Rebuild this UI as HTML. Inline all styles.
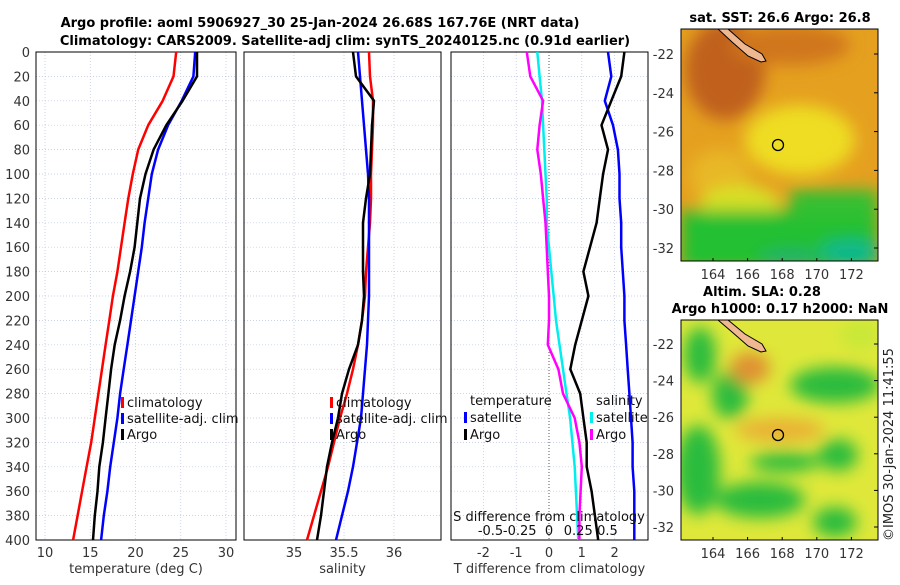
<!DOCTYPE html>
<html><head><meta charset="utf-8"><style>
body{margin:0;background:#fff;font-family:"Liberation Sans","DejaVu Sans",sans-serif}
svg text{font-family:"DejaVu Sans","Liberation Sans",sans-serif}
</style></head><body>
<svg id="c" width="900" height="580" viewBox="0 0 900 580" xmlns="http://www.w3.org/2000/svg">
<defs>
<filter id="bl" x="-50%" y="-50%" width="200%" height="200%"><feGaussianBlur stdDeviation="8"/></filter>
<clipPath id="m1"><rect x="681" y="29" width="197" height="232"/></clipPath>
<clipPath id="m2"><rect x="681" y="320" width="197" height="220"/></clipPath>
</defs>
<g font-weight="bold" font-size="13" text-anchor="middle" fill="#000">
<text x="320" y="27">Argo profile: aoml 5906927_30 25-Jan-2024 26.68S 167.76E (NRT data)</text>
<text x="345" y="45">Climatology: CARS2009. Satellite-adj clim: synTS_20240125.nc (0.91d earlier)</text>
<text x="780" y="22">sat. SST: 26.6 Argo: 26.8</text>
<text x="762" y="296">Altim. SLA: 0.28</text>
<text x="780" y="313">Argo h1000: 0.17 h2000: NaN</text>
</g>
<g clip-path="url(#m1)">
<rect x="681" y="29" width="197" height="232" fill="#e5a020"/>
<g filter="url(#bl)">
<ellipse cx="725" cy="70" rx="40" ry="50" fill="#c0601a"/>
<ellipse cx="790" cy="45" rx="60" ry="20" fill="#d0761a"/>
<ellipse cx="800" cy="140" rx="55" ry="35" fill="#eedd22"/>
<ellipse cx="720" cy="175" rx="30" ry="25" fill="#e8b828"/>
<ellipse cx="740" cy="205" rx="40" ry="20" fill="#d8e028"/>
<rect x="681" y="210" width="197" height="60" fill="#20c030"/>
<rect x="790" y="190" width="88" height="30" fill="#30c030"/>
<ellipse cx="850" cy="252" rx="30" ry="12" fill="#10b890"/>
<ellipse cx="790" cy="258" rx="30" ry="8" fill="#20b070"/>
</g>
</g>
<g clip-path="url(#m2)">
<rect x="681" y="320" width="197" height="220" fill="#dfe83a"/>
<g filter="url(#bl)" fill="#2cbc3c">
<ellipse cx="700" cy="355" rx="16" ry="28"/>
<ellipse cx="730" cy="395" rx="18" ry="24"/>
<ellipse cx="835" cy="385" rx="45" ry="18"/>
<ellipse cx="838" cy="455" rx="20" ry="16"/>
<ellipse cx="698" cy="470" rx="22" ry="45"/>
<ellipse cx="760" cy="500" rx="45" ry="18"/>
<ellipse cx="785" cy="462" rx="35" ry="10"/>
<ellipse cx="835" cy="522" rx="22" ry="15"/>
<ellipse cx="750" cy="368" rx="20" ry="16" fill="#e09030"/>
<ellipse cx="780" cy="430" rx="45" ry="12" fill="#eab036"/>
<ellipse cx="860" cy="335" rx="20" ry="15" fill="#c8e838"/>
</g>
</g>
<polygon points="718,29 728,29 745,44 762,54 766,61 761,62 748,56 732,42" fill="#f0b890" stroke="#000" stroke-width="1"/>
<polygon points="718,320 728,320 745,334 762,344 766,351 761,352 748,346 732,332" fill="#f0b890" stroke="#000" stroke-width="1"/>
<circle cx="778" cy="145" r="5.5" fill="none" stroke="#000" stroke-width="1.3"/>
<circle cx="778" cy="435" r="5.5" fill="none" stroke="#000" stroke-width="1.3"/>
<rect x="681" y="29" width="197" height="232" fill="none" stroke="#000"/>
<rect x="681" y="320" width="197" height="220" fill="none" stroke="#000"/>
<text transform="translate(893,541) rotate(-90)" font-size="13" fill="#222">©IMOS 30-Jan-2024 11:41:55</text>
<g id="g"></g>
</svg>
<script>
const depths=[0,20,40,60,80,100,120,140,160,180,200,220,240,260,280,300,320,340,360,380,400];
const tempClim=[24.5,24.2,23,21.4,20.3,19.7,19.2,18.8,18.4,18.0,17.5,17.1,16.7,16.3,15.9,15.5,15.1,14.6,14.1,13.6,13.1];
const tempSat=[26.6,26.4,25.1,23.6,22.5,21.8,21.4,21.0,20.7,20.3,19.9,19.5,19.1,18.7,18.3,18.0,17.6,17.2,16.9,16.5,16.2];
const tempArgo=[26.8,26.8,25.2,23.4,22.0,21.1,20.5,20.2,19.9,19.4,18.8,18.3,17.7,17.3,17.0,16.7,16.4,16.0,15.8,15.5,15.3];
const salClim=[35.75,35.76,35.79,35.79,35.78,35.77,35.77,35.76,35.74,35.72,35.71,35.68,35.64,35.59,35.53,35.46,35.40,35.34,35.27,35.20,35.13];
const salSat=[35.64,35.66,35.68,35.70,35.72,35.74,35.75,35.75,35.75,35.75,35.75,35.74,35.73,35.71,35.69,35.67,35.63,35.59,35.54,35.48,35.42];
const salArgo=[35.59,35.62,35.80,35.78,35.77,35.76,35.72,35.69,35.69,35.69,35.70,35.68,35.64,35.55,35.48,35.44,35.38,35.33,35.30,35.27,35.23];
const tDiffSat=[1.8,1.9,1.7,1.95,2.1,2.15,2.15,2.2,2.2,2.25,2.3,2.3,2.35,2.4,2.45,2.5,2.55,2.55,2.6,2.6,2.6];
const tDiffArgo=[2.3,2.2,1.9,1.6,1.8,1.65,1.55,1.45,1.25,1.05,1.2,1.0,0.8,0.65,0.95,1.05,1.15,1.15,1.3,1.4,1.5];
const sDiffSat=[-0.1,-0.08,-0.06,-0.05,-0.04,-0.03,-0.02,-0.02,0.0,0.02,0.04,0.06,0.09,0.12,0.15,0.18,0.2,0.22,0.23,0.24,0.25];
const sDiffArgo=[-0.19,-0.16,-0.05,-0.08,-0.1,-0.07,-0.05,-0.03,-0.02,-0.01,0.0,0.0,-0.01,0.08,0.12,0.22,0.26,0.28,0.27,0.26,0.26];
const depthTicks=[0,20,40,60,80,100,120,140,160,180,200,220,240,260,280,300,320,340,360,380,400];
const tempTicks=[10,15,20,25,30];
const salTicks=[35,35.5,36];
const tDiffTicks=[-2,-1,0,1,2];
const sDiffTicks=[-0.5,-0.25,0,0.25,0.5];
const sDiffTickLabels=["-0.5","-0.25","0","0.25","0.5"];
const lonTicks=[164,166,168,170,172];
const latTicks=[-22,-24,-26,-28,-30,-32];

const NS='http://www.w3.org/2000/svg';
const G=document.getElementById('g');
function mk(t,a,p){const e=document.createElementNS(NS,t);for(const k in a)e.setAttribute(k,a[k]);(p||G).appendChild(e);return e;}
const Y=d=>52+d*1.22;
const xT=v=>45+(v-10)*9.05, xS=v=>294+(v-35)*100, xTD=v=>549+v*32.8, xSD=v=>549+v*117;
const panels=[{x0:36,x1:236,f:xT,ticks:tempTicks,lab:'temperature (deg C)',n:'temperature'},
{x0:244,x1:441,f:xS,ticks:salTicks,lab:'salinity',n:'salinity'},
{x0:451,x1:648,f:xTD,ticks:tDiffTicks,lab:'T difference from climatology',n:'difference'}];
panels.forEach((p,i)=>{
 depthTicks.forEach(d=>{const l=mk('line',{x1:p.x0,x2:p.x1,y1:Y(d),y2:Y(d),stroke:'#b8c4e0','stroke-width':0.7,'stroke-dasharray':'1,2'});
 });
 p.ticks.forEach(v=>{const l=mk('line',{x1:p.f(v),x2:p.f(v),y1:52,y2:540,stroke:'#b8c4e0','stroke-width':0.7,'stroke-dasharray':'1,2'});
 
 const t=mk('text',{x:p.f(v),y:557,'font-size':13,'text-anchor':'middle',fill:'#333'});t.textContent=String(v);
 });
 const t=mk('text',{x:(p.x0+p.x1)/2,y:573,'font-size':13,'text-anchor':'middle',fill:'#333'});t.textContent=p.lab;
 
 const r=mk('rect',{x:p.x0,y:52,width:p.x1-p.x0,height:488,fill:'none',stroke:'#000','stroke-width':1});
 
});
depthTicks.forEach(d=>{const t=mk('text',{x:30,y:Y(d)+5,'font-size':13,'text-anchor':'end',fill:'#333'});t.textContent=String(d);
 });
const zl=mk('line',{x1:549,x2:549,y1:52,y2:540,stroke:'#555','stroke-dasharray':'1,2'});

function series(vals,f,col,name,w){const pts=vals.map((v,i)=>f(v).toFixed(1)+','+Y(depths[i]).toFixed(1)).join(' ');
 const l=mk('polyline',{points:pts,fill:'none',stroke:col,'stroke-width':w||2.5,'stroke-linejoin':'round'});
 }
series(tempClim,xT,'#ff0000','temp-climatology-line');series(tempSat,xT,'#0000ff','temp-satellite-line');series(tempArgo,xT,'#000','temp-argo-line');
series(salClim,xS,'#ff0000','sal-climatology-line');series(salSat,xS,'#0000ff','sal-satellite-line');series(salArgo,xS,'#000','sal-argo-line');
series(sDiffSat,xSD,'#00eeee','sdiff-satellite-line');series(sDiffArgo,xSD,'#ff00ff','sdiff-argo-line');
series(tDiffSat,xTD,'#0000ff','tdiff-satellite-line');series(tDiffArgo,xTD,'#000','tdiff-argo-line');
function leg(x,y,col,txt,name){const r=mk('rect',{x:x-6,y:y-10,width:3,height:11,fill:col});
 
 const t=mk('text',{x:x,y:y,'font-size':13,fill:'#111'});t.textContent=txt;
 }
leg(127,407,'#ff0000','climatology','legend-climatology');leg(127,423,'#0000ff','satellite-adj. clim','legend-satellite');leg(127,439,'#000','Argo','legend-argo');
leg(336,407,'#ff0000','climatology','legend-sal-climatology');leg(336,423,'#0000ff','satellite-adj. clim','legend-sal-satellite');leg(336,439,'#000','Argo','legend-sal-argo');
const tt=mk('text',{x:470,y:405,'font-size':13,fill:'#111'});tt.textContent='temperature';
const st=mk('text',{x:596,y:405,'font-size':13,fill:'#111'});st.textContent='salinity';
leg(470,422,'#0000ff','satellite','legend-tdiff-satellite');leg(470,439,'#000','Argo','legend-tdiff-argo');
leg(596,422,'#00eeee','satellite','legend-sdiff-satellite');leg(596,439,'#ff00ff','Argo','legend-sdiff-argo');
const sl=mk('text',{x:549,y:521,'font-size':13,'text-anchor':'middle',fill:'#111'});sl.textContent='S difference from climatology';

sDiffTicks.forEach((v,i)=>{const t=mk('text',{x:xSD(v),y:535,'font-size':13,'text-anchor':'middle',fill:'#111'});t.textContent=sDiffTickLabels[i];
 });
const lonX=v=>713+(v-164)*17.3;
[[261,0],[540,1]].forEach(([yb,k])=>{lonTicks.forEach(v=>{const t=mk('text',{x:lonX(v),y:yb+18,'font-size':13,'text-anchor':'middle',fill:'#333'});t.textContent=String(v);
 
 mk('line',{x1:lonX(v),x2:lonX(v),y1:yb,y2:yb-3,stroke:'#000'});});});
latTicks.forEach(v=>{const y1=54+(-22-v)*19.4, y2=344+(-22-v)*18.3;
 [y1,y2].forEach(y=>{const t=mk('text',{x:674,y:y+5,'font-size':13,'text-anchor':'end',fill:'#333'});t.textContent=String(v);
 
 mk('line',{x1:878,x2:874,y1:y,y2:y,stroke:'#000'});});});
</script>
</body></html>
